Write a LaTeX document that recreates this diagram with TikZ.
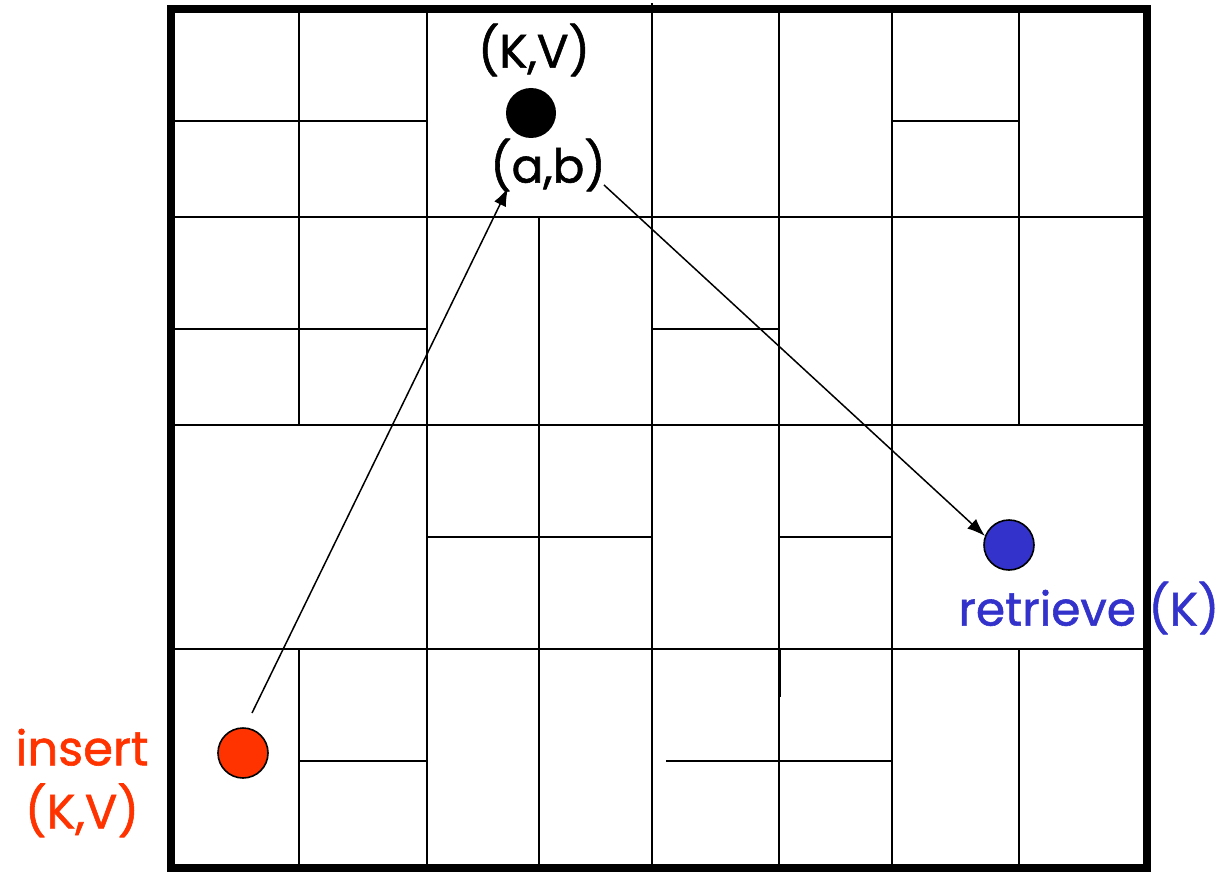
\documentclass[tikz,border=0pt]{standalone}
\usepackage{fontspec}
\setmainfont{Poppins}[FakeBold=1.2]
\usetikzlibrary{arrows.meta}
\definecolor{insred}{HTML}{FF3300}
\definecolor{retblue}{HTML}{3333CC}
\tikzset{
  grid/.style={line width=0.8pt, line cap=rect},
  border/.style={line width=4pt},
  dot/.style={circle, inner sep=0pt, minimum size=25pt, line width=0.8pt},
  lbl/.style={inner sep=0pt, font=\fontsize{23.5}{28}\selectfont},
  conn/.style={line width=0.75pt, -{Latex[length=9pt,width=6.5pt]}},
}
\begin{document}
\begin{tikzpicture}[x=0.5pt,y=-0.5pt]
\useasboundingbox (0,0) rectangle (1226,872);
% grid
\draw[grid] (299,9) -- (299,425) (299,649) -- (299,868);
\draw[grid] (427,9) -- (427,868);
\draw[grid] (539,217) -- (539,868);
\draw[grid] (652,4) -- (652,868);
\draw[grid] (779,9) -- (779,868);
\draw[line width=1.5pt] (779,649) -- (779,697);
\draw[grid] (892,9) -- (892,868);
\draw[grid] (1019,9) -- (1019,425) (1019,649) -- (1019,868);
\draw[grid] (171,121) -- (427,121) (892,121) -- (1019,121);
\draw[grid] (171,217) -- (1147,217);
\draw[grid] (171,329) -- (427,329) (652,329) -- (779,329);
\draw[grid] (171,425) -- (1147,425);
\draw[grid] (427,537) -- (652,537) (779,537) -- (892,537);
\draw[grid] (171,649) -- (1147,649);
\draw[grid] (299,761) -- (427,761) (667,761) -- (892,761);
% texts
\node[lbl] (kv) at (534,50) {(K,V)};
\node[lbl] (ab) at (548,165) {(a,b)};
\node[lbl, text=insred, font=\fontsize{24}{31.5}\selectfont, align=center] (ins) at (82,783) {insert\\(K,V)};
\node[lbl, text=retblue, anchor=west] (ret) at (958,608) {retrieve (K)};
% border on top
\draw[border] (171,9) rectangle (1147,868);
% dots
\node[dot, fill=black] (p) at (531,113) {};
\node[dot, fill=insred, draw=black] (red) at (243,753) {};
\node[dot, fill=retblue, draw=black] (blue) at (1009,545) {};
% arrows
\coordinate (a1s) at (252,713);
\coordinate (a1e) at (508,188);
\coordinate (a2s) at (604,185);
\coordinate (a2e) at (985,536);
\draw[conn] (a1s) -- (a1e);
\draw[conn] (a2s) -- (a2e);
\end{tikzpicture}
\end{document}
